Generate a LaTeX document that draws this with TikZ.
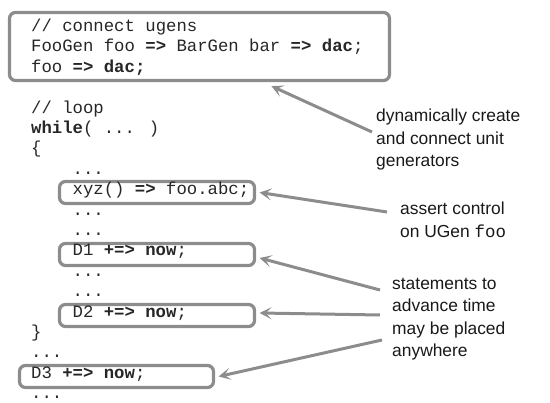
\documentclass[tikz,border=0pt]{standalone}
\usepackage{fontspec}
\newfontfamily\codefont{Liberation Mono}
\newfontfamily\labfont{Liberation Sans}
\usetikzlibrary{arrows.meta}
\definecolor{boxgray}{HTML}{8C8C8C}
\begin{document}
\begin{tikzpicture}[x=1pt,y=-1pt,
  code/.style={anchor=base west, inner sep=0pt, font={\codefont\fontsize{17.3}{20}\selectfont}, text=black!85},
  lab/.style={anchor=base west, inner sep=0pt, font={\labfont\fontsize{17.4}{22}\selectfont}, text=black!90},
  cbox/.style={draw=boxgray, line width=3.2pt, rounded corners=6pt, inner sep=0pt},
  arr/.style={draw=boxgray, line width=3pt, -{Stealth[length=12pt,width=12pt,inset=6pt]}}]
\useasboundingbox (0,0) rectangle (550,403);
% boxes
\node[cbox, minimum width=380pt, minimum height=68pt] (top) at (199.5,46.5) {};
\node[cbox, minimum width=195pt, minimum height=22pt] (xyz) at (157,192.5) {};
\node[cbox, minimum width=195pt, minimum height=22pt] (d1) at (157,254.5) {};
\node[cbox, minimum width=195pt, minimum height=22pt] (d2) at (157,315.5) {};
\node[cbox, minimum width=194pt, minimum height=22pt] (d3) at (116.5,376.5) {};
% code
\node[code] (l0) at (31,31.5) {// connect ugens};
\node[code] (l1) at (31,51.9) {FooGen foo \textbf{=>} BarGen bar \textbf{=>} \textbf{dac};};
\node[code] (l2) at (31,72.3) {foo \textbf{=>} \textbf{dac;}};
\node[code] (l4) at (31,113.1) {// loop};
\node[code] (l5) at (31,133.5) {\textbf{while}( ... )};
\node[code] (l6) at (31,153.9) {\{};
\node[code] (l7) at (72.5,174.3) {...};
\node[code] (l8) at (72.5,194.7) {xyz() \textbf{=>} foo.abc;};
\node[code] (l9) at (72.5,215.1) {...};
\node[code] (l10) at (72.5,235.5) {...};
\node[code] (l11) at (72.5,255.9) {D1 \textbf{+=>} \textbf{now};};
\node[code] (l12) at (72.5,276.3) {...};
\node[code] (l13) at (72.5,296.7) {...};
\node[code] (l14) at (72.5,317.1) {D2 \textbf{+=>} \textbf{now};};
\node[code] (l15) at (31,337.5) {\}};
\node[code] (l16) at (31,357.9) {...};
\node[code] (l17) at (31,378.3) {D3 \textbf{+=>} \textbf{now};};
\node[code] (l18) at (31,398.7) {...};
% labels
\node[lab] (a1) at (376,122) {dynamically create};
\node[lab] (a2) at (376,145) {and connect unit};
\node[lab] (a3) at (376,167) {generators};
\node[lab] (b1) at (400,215) {assert control};
\node[lab] (b2) at (400,238) {on UGen {\codefont foo}};
\node[lab] (s1) at (392,290) {statements to};
\node[lab] (s2) at (392,312) {advance time};
\node[lab] (s3) at (392,335) {may be placed};
\node[lab] (s4) at (392,357) {anywhere};
% arrows
\coordinate (c1) at (372,132);
\coordinate (c2) at (387,212);
\coordinate (c3) at (380,290);
\coordinate (c4) at (380,315);
\coordinate (c5) at (382,340);
\draw[arr] (c1) -- ([xshift=263.5pt,yshift=-4pt]top.south west);
\draw[arr] (c2) -- ([xshift=3.5pt]xyz.east);
\draw[arr] (c3) -- ([xshift=3.5pt,yshift=-3.5pt]d1.east);
\draw[arr] (c4) -- ([xshift=3.5pt,yshift=2.5pt]d2.east);
\draw[arr] (c5) -- ([xshift=3.5pt]d3.east);
\end{tikzpicture}
\end{document}
